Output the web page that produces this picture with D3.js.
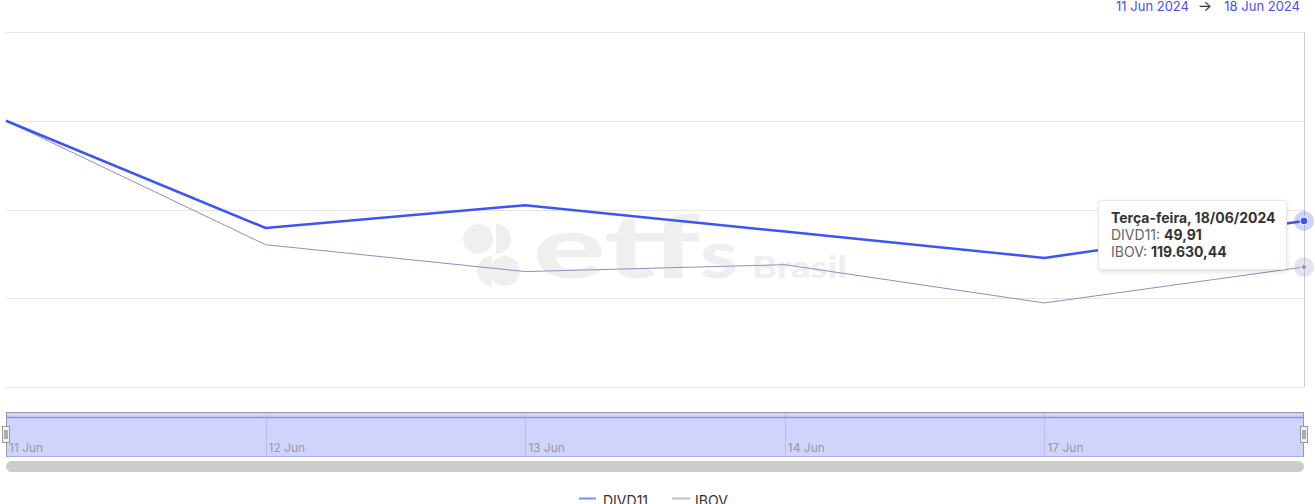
<!DOCTYPE html>
<html><head><meta charset="utf-8">
<script src="https://cdn.jsdelivr.net/npm/d3@7"></script>
<style>
body{margin:0;background:#fff;}
svg{display:block;font-family:Inter,"Open Sans",sans-serif;}
</style></head>
<body><svg id="c" width="1315" height="504"></svg>
<script>
// ---- data ----
const dates = ["2024-06-11","2024-06-12","2024-06-13","2024-06-14","2024-06-17","2024-06-18"];
const navLabels = ["11 Jun","12 Jun","13 Jun","14 Jun","17 Jun",""];
const seriesNames = ["DIVD11","IBOV"];
const divd11 = [50.48,49.87,50.00,49.85,49.70,49.91];
const ibov = [121635.23,119936.22,119568.25,119662.36,119138.03,119630.44];
const yTicks = [-3,-2,-1,0,1];
const rangeLabels = ["11 Jun 2024","18 Jun 2024"];
const tooltipTitle = "Terça-feira, 18/06/2024";

const svg = d3.select("#c");
const x = d3.scalePoint().domain(dates).range([6,1304]);
const y = d3.scaleLinear().domain([-3,1]).range([387,32]);
const pct = arr => arr.map(v => (v/arr[0]-1)*100);
const divdP = pct(divd11), ibovP = pct(ibov);
const ptBR = d3.formatLocale({decimal:",",thousands:".",grouping:[3],currency:["R$",""]});
const fmt = ptBR.format(",.2f");

// range selector text
const rs = svg.append("g").attr("font-size",13);
rs.append("text").attr("x",1300).attr("y",10.5).attr("text-anchor","end").attr("fill","#4b4df5").text(rangeLabels[1]);
rs.append("text").attr("x",1205).attr("y",10.5).attr("text-anchor","middle").attr("fill","#333").attr("font-size",15).text("→");
rs.append("text").attr("x",1189).attr("y",10.5).attr("text-anchor","end").attr("fill","#4b4df5").text(rangeLabels[0]);

// grid
svg.append("g").selectAll("line").data(yTicks).join("line")
  .attr("x1",6).attr("x2",1304)
  .attr("y1",d=>Math.round(y(d))+0.5).attr("y2",d=>Math.round(y(d))+0.5)
  .attr("stroke","#e6e6e6").attr("stroke-width",1);

// watermark
const wm = svg.append("g").attr("fill","#efefef").attr("font-family","Lato, Inter, sans-serif").attr("font-weight",900);
wm.append("circle").attr("cx",478).attr("cy",239).attr("r",15);
wm.append("path").attr("d","M496,224 A15,15 0 0 1 496,254 Z");
wm.append("path").attr("d","M492,256 A15,15 0 0 0 492,286 Z");
wm.append("circle").attr("cx",505).attr("cy",271).attr("r",15);
wm.append("text").attr("x",533).attr("y",278).attr("font-size",88)
  .attr("textLength",167).attr("lengthAdjust","spacingAndGlyphs").text("etf");
wm.append("text").attr("x",700).attr("y",278).attr("font-size",66)
  .attr("textLength",38).attr("lengthAdjust","spacingAndGlyphs").text("s");
wm.append("text").attr("x",752).attr("y",278).attr("font-size",31)
  .attr("textLength",95).attr("lengthAdjust","spacingAndGlyphs").text("Brasil");

// crosshair
svg.append("line").attr("x1",x(dates[5])+0.5).attr("x2",x(dates[5])+0.5).attr("y1",32).attr("y2",387)
  .attr("stroke","#cccccc").attr("stroke-width",1);

// lines
const line = d3.line().x((d,i)=>x(dates[i])).y(d=>y(d));
svg.append("path").datum(ibovP).attr("d",line).attr("fill","none").attr("stroke","#948bc0").attr("stroke-width",1);
svg.append("path").datum(divdP).attr("d",line).attr("fill","none").attr("stroke","#3b55f6").attr("stroke-width",2.5);

// hover markers
const lx = x(dates[5]);
svg.append("circle").attr("cx",lx).attr("cy",y(divdP[5])).attr("r",10).attr("fill","rgba(59,85,246,0.25)");
svg.append("circle").attr("cx",lx).attr("cy",y(divdP[5])).attr("r",4).attr("fill","#3b55f6").attr("stroke","#fff").attr("stroke-width",1);
svg.append("circle").attr("cx",lx).attr("cy",y(ibovP[5])).attr("r",10).attr("fill","rgba(152,143,194,0.25)");
svg.append("path").attr("d",d3.symbol(d3.symbolDiamond2,30)()).attr("transform",`translate(${lx},${y(ibovP[5])})`)
  .attr("fill","#9a96c8").attr("stroke","#fff").attr("stroke-width",1);

// tooltip
const tt = svg.append("g").attr("transform","translate(1098,200)");
tt.append("rect").attr("x",1).attr("y",2).attr("width",188).attr("height",70).attr("rx",3)
  .attr("fill","rgba(0,0,0,0.12)").style("filter","blur(2px)");
tt.append("rect").attr("x",0.5).attr("y",0.5).attr("width",188).attr("height",69).attr("rx",3)
  .attr("fill","#fff").attr("stroke","#e8e8e8");
tt.append("text").attr("x",13).attr("y",23).attr("font-size",14).attr("font-weight",700).attr("fill","#333").text(tooltipTitle);
const r1 = tt.append("text").attr("x",13).attr("y",40).attr("font-size",14).attr("fill","#666");
r1.append("tspan").text(seriesNames[0]+": ");
r1.append("tspan").attr("font-weight",700).attr("fill","#333").text(fmt(divd11[5]));
const r2 = tt.append("text").attr("x",13).attr("y",57).attr("font-size",14).attr("fill","#666");
r2.append("tspan").text(seriesNames[1]+": ");
r2.append("tspan").attr("font-weight",700).attr("fill","#333").text(fmt(ibov[5]));

// navigator
const nav = svg.append("g");
nav.append("rect").attr("x",6).attr("y",412).attr("width",1298).attr("height",45).attr("fill","#d0d4fd");
nav.selectAll("line.g").data(dates.slice(1,5)).join("line").attr("class","g")
  .attr("x1",d=>Math.round(x(d))+0.5).attr("x2",d=>Math.round(x(d))+0.5).attr("y1",412).attr("y2",457)
  .attr("stroke","#b9bdf0").attr("stroke-width",1);
nav.append("line").attr("x1",6).attr("x2",1304).attr("y1",417.5).attr("y2",417.5).attr("stroke","#8b94e6").attr("stroke-width",1.5);
nav.append("line").attr("x1",6).attr("x2",1304).attr("y1",456.5).attr("y2",456.5).attr("stroke","#a3abf3").attr("stroke-width",1);
nav.append("path").attr("d","M6.5,457 V412.5 H1303.5 V457").attr("fill","none").attr("stroke","#999").attr("stroke-width",1);
nav.selectAll("text").data(dates.map((d,i)=>({d,l:navLabels[i]})).filter(o=>o.l)).join("text")
  .attr("x",o=>x(o.d)+3).attr("y",452).attr("font-size",12).attr("fill","#999").text(o=>o.l);
[6,1304].forEach(hx=>{
  const h = nav.append("g").attr("transform",`translate(${hx},0)`);
  h.append("rect").attr("x",-3.5).attr("y",426.5).attr("width",7).attr("height",16).attr("fill","#f2f2f2").attr("stroke","#999");
  h.append("line").attr("x1",-1).attr("x2",-1).attr("y1",430).attr("y2",439).attr("stroke","#666");
  h.append("line").attr("x1",1).attr("x2",1).attr("y1",430).attr("y2",439).attr("stroke","#666");
});
// scrollbar
svg.append("rect").attr("x",6).attr("y",461).attr("width",1298).attr("height",11).attr("rx",5.5).attr("fill","#cccccc");

// legend
const lg = svg.append("g").attr("font-size",14).attr("fill","#333");
lg.append("line").attr("x1",579).attr("x2",596).attr("y1",498.5).attr("y2",498.5).attr("stroke","#7c8cf8").attr("stroke-width",2);
lg.append("text").attr("x",603).attr("y",506).text(seriesNames[0]);
lg.append("line").attr("x1",672).attr("x2",690).attr("y1",498.5).attr("y2",498.5).attr("stroke","#bdbcdc").attr("stroke-width",2);
lg.append("text").attr("x",695).attr("y",506).text(seriesNames[1]);
</script>
</body></html>
